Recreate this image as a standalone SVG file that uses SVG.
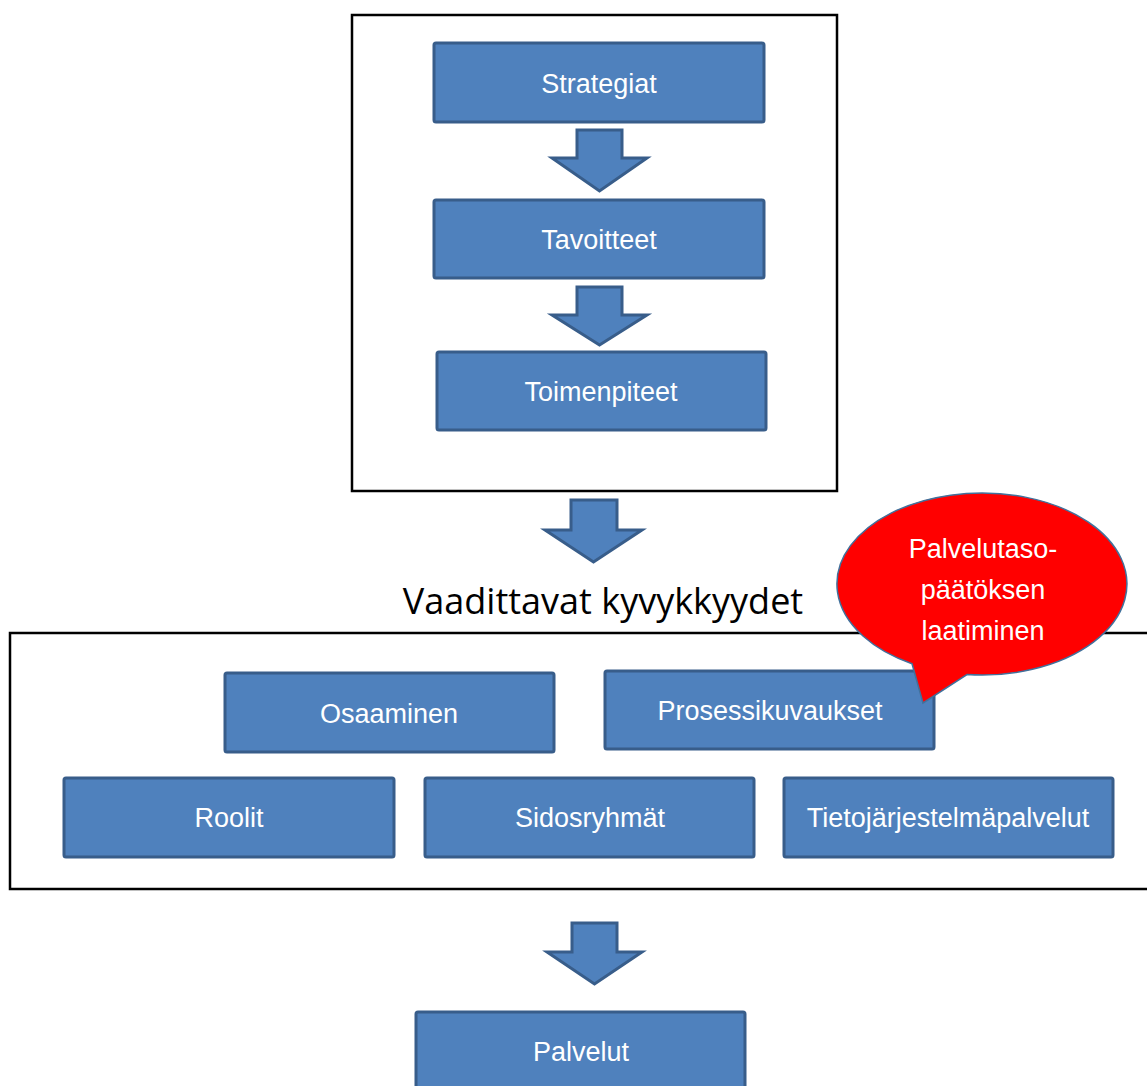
<svg xmlns="http://www.w3.org/2000/svg" width="1147" height="1086" viewBox="0 0 1147 1086">
<style>
.frame{fill:none;stroke:#000;stroke-width:2.5}
.box{fill:#4f81bd;stroke:#385d8a;stroke-width:3}
.arrow{fill:#4f81bd;stroke:#385d8a;stroke-width:3;stroke-linejoin:miter}
.lbl{font-family:"Liberation Sans",Arial,sans-serif;font-size:27px;fill:#fff;text-anchor:middle}
.title{font-family:"Open Sans","Noto Sans",sans-serif;font-size:36px;fill:#000;text-anchor:middle}
</style>
<rect width="1147" height="1086" fill="#fff"/>
<g id="frame-top"><rect class="frame" x="352" y="15" width="485" height="476"/></g>
<g id="frame-bottom"><rect class="frame" x="10" y="633" width="1150" height="256"/></g>
<g id="title"><text class="title" x="603" y="614">Vaadittavat kyvykkyydet</text></g>
<g id="connectors">
<path class="arrow" d="M577 130 H622 V158 H647 L599.5 191 L552 158 H577 Z"/>
<path class="arrow" d="M577 287 H622 V315 H647 L599.5 345 L552 315 H577 Z"/>
<path class="arrow" d="M571 500 H617 V530 H642 L593.5 562 L545 530 H571 Z"/>
<path class="arrow" d="M572 923 H617 V952 H642 L594.5 984 L547 952 H572 Z"/>
</g>
<g id="strategiat"><rect class="box" x="434" y="43" width="330" height="79" rx="2"/><text class="lbl" x="599" y="93">Strategiat</text></g>
<g id="tavoitteet"><rect class="box" x="434" y="200" width="330" height="78" rx="2"/><text class="lbl" x="599" y="249">Tavoitteet</text></g>
<g id="toimenpiteet"><rect class="box" x="437" y="352" width="329" height="78" rx="2"/><text class="lbl" x="601" y="401">Toimenpiteet</text></g>
<g id="osaaminen"><rect class="box" x="225" y="673" width="329" height="79" rx="2"/><text class="lbl" x="389" y="723">Osaaminen</text></g>
<g id="prosessikuvaukset"><rect class="box" x="605" y="671" width="329" height="78" rx="2"/><text class="lbl" x="770" y="720">Prosessikuvaukset</text></g>
<g id="roolit"><rect class="box" x="64" y="778" width="330" height="79" rx="2"/><text class="lbl" x="229" y="827">Roolit</text></g>
<g id="sidosryhmat"><rect class="box" x="425" y="778" width="329" height="79" rx="2"/><text class="lbl" x="590" y="827">Sidosryhmät</text></g>
<g id="tietojarjestelmapalvelut"><rect class="box" x="784" y="778" width="329" height="79" rx="2"/><text class="lbl" x="948" y="827">Tietojärjestelmäpalvelut</text></g>
<g id="palvelut"><rect class="box" x="416" y="1012" width="329" height="90" rx="2"/><text class="lbl" x="581" y="1061">Palvelut</text></g>
<g id="callout">
<path d="M967 674.5 A145 91 0 1 0 912 663.7 L923 703 Z" fill="#ff0000" stroke="#41719c" stroke-width="1.5"/>
<text class="lbl" x="983" y="558">Palvelutaso-</text>
<text class="lbl" x="983" y="599">päätöksen</text>
<text class="lbl" x="983" y="640">laatiminen</text>
</g>
</svg>
